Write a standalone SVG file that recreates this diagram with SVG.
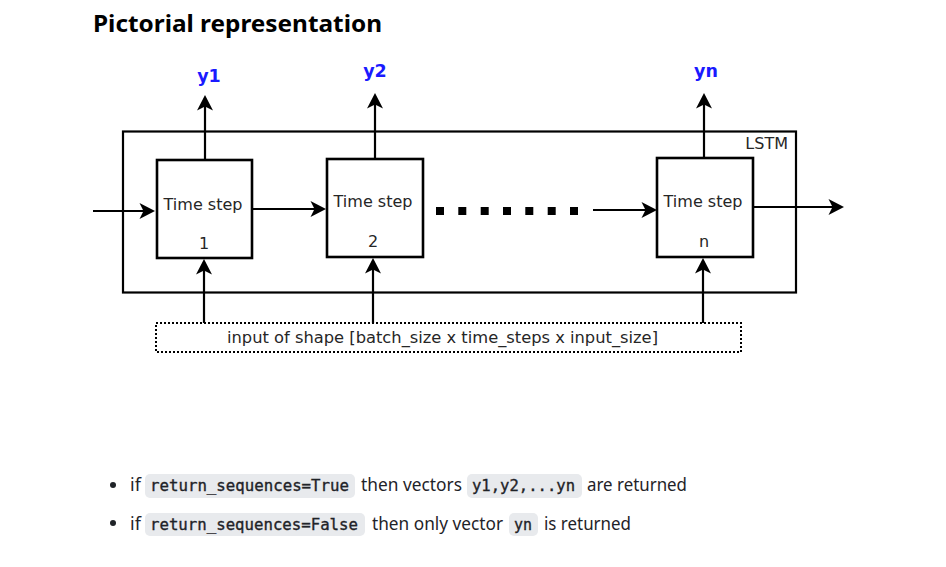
<svg xmlns="http://www.w3.org/2000/svg" width="946" height="567" viewBox="0 0 946 567">
<style>
.box{fill:#fff;stroke:#000;stroke-width:2.6}
.lstm{fill:none;stroke:#000;stroke-width:2.2}
.wire{fill:none;stroke:#000;stroke-width:2.2}
.lbl{font-family:"DejaVu Sans",sans-serif;font-size:16px;fill:#262626}
.out{font-family:"DejaVu Sans",sans-serif;font-size:17.5px;font-weight:bold;fill:#1a1aff}
.body{font-family:"Noto Sans","Open Sans",sans-serif;font-size:18px;fill:#1f2328}
.code{font-family:"DejaVu Sans Mono","Liberation Mono",monospace;font-size:15.5px;fill:#1f2328;stroke:#1f2328;stroke-width:0.35}
.cbg{fill:#e8eaed}
</style>
<defs>
<marker id="ah" markerWidth="18" markerHeight="18" refX="13" refY="9" orient="auto" markerUnits="userSpaceOnUse">
<path d="M16,9 L0.5,1 L4.5,9 L0.5,17 Z" fill="#000"/>
</marker>
</defs>
<rect width="946" height="567" fill="#fff"/>
<text x="93" y="32" font-family="Noto Sans, Open Sans, sans-serif" font-size="24" font-weight="bold" fill="#000" textLength="289" lengthAdjust="spacingAndGlyphs">Pictorial representation</text>

<g id="lstm">
<rect class="lstm" x="123" y="131.5" width="673" height="161"/>
<text class="lbl" x="788" y="149" text-anchor="end" font-size="15">LSTM</text>
</g>

<g id="connectors">
<line class="wire" x1="93" y1="211" x2="152" y2="211" marker-end="url(#ah)"/>
<line class="wire" x1="252" y1="209" x2="323" y2="209" marker-end="url(#ah)"/>
<line class="wire" x1="593" y1="210" x2="654" y2="210" marker-end="url(#ah)"/>
<line class="wire" x1="753" y1="207" x2="841" y2="207" marker-end="url(#ah)"/>
<line class="wire" x1="205" y1="160" x2="205" y2="98" marker-end="url(#ah)"/>
<line class="wire" x1="375" y1="159" x2="375" y2="96" marker-end="url(#ah)"/>
<line class="wire" x1="704" y1="158" x2="704" y2="96" marker-end="url(#ah)"/>
<line class="wire" x1="204" y1="323" x2="204" y2="262" marker-end="url(#ah)"/>
<line class="wire" x1="373" y1="323" x2="373" y2="261" marker-end="url(#ah)"/>
<line class="wire" x1="703" y1="323" x2="703" y2="261" marker-end="url(#ah)"/>
</g>

<g id="step1">
<rect class="box" x="157" y="160" width="95" height="98"/>
<text class="lbl" x="203" y="210" text-anchor="middle">Time step</text>
<text class="lbl" x="204" y="249" text-anchor="middle">1</text>
</g>
<g id="step2">
<rect class="box" x="327" y="159" width="96" height="98"/>
<text class="lbl" x="373" y="207" text-anchor="middle">Time step</text>
<text class="lbl" x="373" y="247" text-anchor="middle">2</text>
</g>
<g id="stepn">
<rect class="box" x="657" y="158" width="96" height="99"/>
<text class="lbl" x="703" y="207" text-anchor="middle">Time step</text>
<text class="lbl" x="704" y="247" text-anchor="middle">n</text>
</g>

<g id="dots" fill="#000">
<rect x="436" y="207" width="8" height="8"/>
<rect x="458.3" y="207" width="8" height="8"/>
<rect x="480.7" y="207" width="8" height="8"/>
<rect x="503" y="207" width="8" height="8"/>
<rect x="525.3" y="207" width="8" height="8"/>
<rect x="547.7" y="207" width="8" height="8"/>
<rect x="570" y="207" width="8" height="8"/>
</g>

<g id="y1"><text class="out" x="209" y="82" text-anchor="middle">y1</text></g>
<g id="y2"><text class="out" x="375" y="77" text-anchor="middle">y2</text></g>
<g id="yn"><text class="out" x="706" y="77" text-anchor="middle">yn</text></g>

<g id="input">
<rect x="156" y="323" width="585" height="29" fill="none" stroke="#000" stroke-width="2" stroke-dasharray="2,2"/>
<text class="lbl" x="227" y="343" textLength="431" lengthAdjust="spacingAndGlyphs">input of shape [batch_size x time_steps x input_size]</text>
</g>

<g id="notes">
<circle cx="113" cy="485" r="3" fill="#1f2328"/>
<text class="body" x="130" y="491">if</text>
<rect class="cbg" x="145" y="474" width="210" height="24" rx="5"/>
<text class="code" x="150" y="491" textLength="199" lengthAdjust="spacingAndGlyphs">return_sequences=True</text>
<text class="body" x="361" y="491" textLength="101" lengthAdjust="spacingAndGlyphs">then vectors</text>
<rect class="cbg" x="467" y="474" width="115" height="24" rx="5"/>
<text class="code" x="472" y="491" textLength="103" lengthAdjust="spacingAndGlyphs">y1,y2,...yn</text>
<text class="body" x="587" y="491" textLength="100" lengthAdjust="spacingAndGlyphs">are returned</text>

<circle cx="113" cy="523" r="3" fill="#1f2328"/>
<text class="body" x="130" y="530">if</text>
<rect class="cbg" x="145" y="513" width="220" height="23" rx="5"/>
<text class="code" x="150" y="530" textLength="208" lengthAdjust="spacingAndGlyphs">return_sequences=False</text>
<text class="body" x="372" y="530" textLength="131" lengthAdjust="spacingAndGlyphs">then only vector</text>
<rect class="cbg" x="509" y="513" width="29" height="23" rx="5"/>
<text class="code" x="514" y="530" textLength="18" lengthAdjust="spacingAndGlyphs">yn</text>
<text class="body" x="544" y="530" textLength="87" lengthAdjust="spacingAndGlyphs">is returned</text>
</g>
</svg>
